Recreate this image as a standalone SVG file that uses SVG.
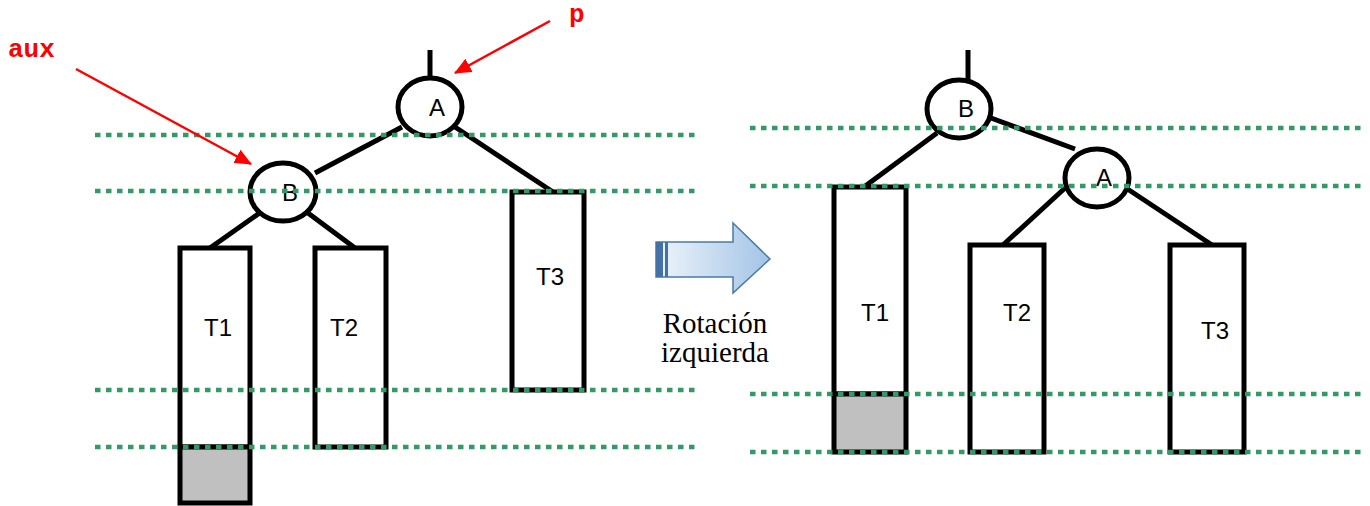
<svg xmlns="http://www.w3.org/2000/svg" width="1370" height="506" viewBox="0 0 1370 506">
<style>
.edge{stroke:#000;stroke-width:5;fill:none}
.node{fill:#fff;stroke:#000;stroke-width:5}
.box{fill:#fff;stroke:#000;stroke-width:5}
.gray{fill:#c0c0c0;stroke:#000;stroke-width:5}
.lbl{font-family:"Liberation Sans",Arial,sans-serif;font-size:24px;fill:#000;text-anchor:middle;dominant-baseline:central}
.dot{stroke:#339966;stroke-width:4.5;stroke-dasharray:5.5 5.5;fill:none}
.red{stroke:#ff0000;stroke-width:2.5;fill:none}
.ptr{font-family:"Courier New","Liberation Mono",monospace;font-weight:bold;font-size:26px;fill:#ff0000}
.cap{font-family:"Liberation Serif","Times New Roman",serif;font-size:29px;fill:#000;text-anchor:middle}
</style>
<defs>
<marker id="ah" viewBox="0 0 17 15" refX="16" refY="7.5" markerWidth="17" markerHeight="15" markerUnits="userSpaceOnUse" orient="auto">
<path d="M0,0 L17,7.5 L0,15 z" fill="#ff0000"/>
</marker>
<linearGradient id="bg" x1="0" y1="0" x2="1" y2="0">
<stop offset="0" stop-color="#eef4fb"/>
<stop offset="1" stop-color="#a3c4e6"/>
</linearGradient>
</defs>
<g id="connectors">
<line class="edge" x1="430" y1="50" x2="430" y2="80"/>
<line class="edge" x1="402" y1="127" x2="315" y2="173"/>
<line class="edge" x1="455" y1="127" x2="553" y2="192"/>
<line class="edge" x1="261" y1="212" x2="210" y2="248"/>
<line class="edge" x1="308" y1="213" x2="355" y2="248"/>
<line class="edge" x1="968" y1="50" x2="968" y2="80"/>
<line class="edge" x1="991" y1="118" x2="1075" y2="149"/>
<line class="edge" x1="937" y1="133" x2="864" y2="187"/>
<line class="edge" x1="1065" y1="188" x2="1003" y2="245"/>
<line class="edge" x1="1126" y1="188" x2="1212" y2="245"/>
</g>
<g id="nodeA1"><ellipse class="node" cx="430" cy="107" rx="32" ry="29"/><text class="lbl" x="437" y="107">A</text></g>
<g id="nodeB1"><ellipse class="node" cx="283" cy="192" rx="33" ry="29"/><text class="lbl" x="290" y="192">B</text></g>
<g id="T1L"><rect class="box" x="180" y="248" width="70" height="199"/><rect class="gray" x="180" y="447" width="70" height="56"/><text class="lbl" x="218" y="327">T1</text></g>
<g id="T2L"><rect class="box" x="315" y="248" width="71" height="199"/><text class="lbl" x="344" y="327">T2</text></g>
<g id="T3L"><rect class="box" x="512" y="192" width="72" height="198"/><text class="lbl" x="550" y="276">T3</text></g>
<g id="nodeB2"><ellipse class="node" cx="959" cy="109" rx="32" ry="29"/><text class="lbl" x="966" y="108">B</text></g>
<g id="nodeA2"><ellipse class="node" cx="1097" cy="178" rx="32" ry="29"/><text class="lbl" x="1104" y="177">A</text></g>
<g id="T1R"><rect class="box" x="834" y="187" width="72" height="207"/><rect class="gray" x="834" y="394" width="72" height="58"/><text class="lbl" x="875" y="312">T1</text></g>
<g id="T2R"><rect class="box" x="970" y="245" width="74" height="207"/><text class="lbl" x="1017" y="312">T2</text></g>
<g id="T3R"><rect class="box" x="1170" y="245" width="74" height="207"/><text class="lbl" x="1215" y="330">T3</text></g>
<g id="levels">
<line class="dot" x1="95" y1="135" x2="697" y2="135"/>
<line class="dot" x1="95" y1="191" x2="697" y2="191"/>
<line class="dot" x1="95" y1="390" x2="697" y2="390"/>
<line class="dot" x1="95" y1="447" x2="697" y2="447"/>
<line class="dot" x1="750" y1="128" x2="1362" y2="128"/>
<line class="dot" x1="750" y1="186" x2="1362" y2="186"/>
<line class="dot" x1="750" y1="394" x2="1362" y2="394"/>
<line class="dot" x1="750" y1="452" x2="1362" y2="452"/>
</g>
<g id="pointers">
<text class="ptr" x="569" y="22">p</text>
<line class="red" x1="550" y1="21" x2="455" y2="73" marker-end="url(#ah)"/>
<text class="ptr" x="8" y="57">aux</text>
<line class="red" x1="76" y1="69" x2="251" y2="164" marker-end="url(#ah)"/>
</g>
<g id="rotation">
<path d="M656,242 L733,242 L733,223 L770,259 L733,293 L733,277 L656,277 Z" fill="url(#bg)" stroke="#4a7aaa" stroke-width="1.5"/>
<rect x="656" y="242" width="7" height="35" fill="#4472a6"/>
<rect x="665" y="242" width="3" height="35" fill="#4472a6"/>
<text class="cap" x="715" y="333">Rotación</text>
<text class="cap" x="715" y="362">izquierda</text>
</g>
</svg>
